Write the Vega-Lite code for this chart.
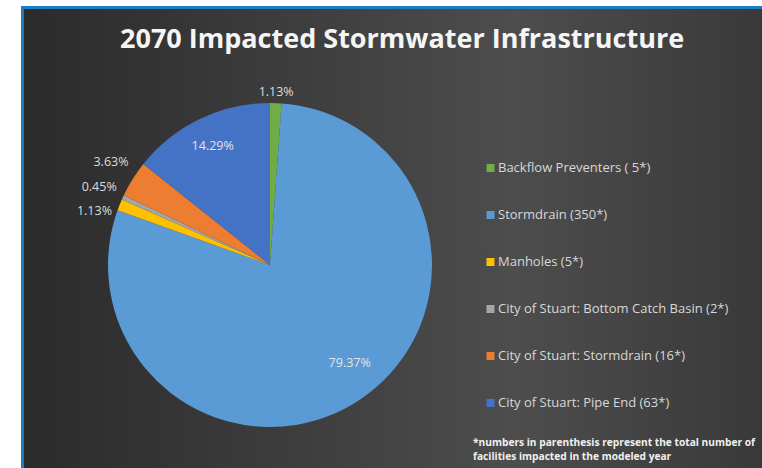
{
  "$schema": "https://vega.github.io/schema/vega-lite/v6.json",
  "background": "white",
  "padding": {"left": 21, "top": 6, "right": 0, "bottom": 0},
  "title": {
    "text": "2070 Impacted Stormwater Infrastructure",
    "anchor": "start",
    "frame": "group",
    "dx": 99,
    "offset": -69,
    "baseline": "alphabetic",
    "font": "Open Sans",
    "fontSize": 27,
    "fontWeight": "bold",
    "color": "#f5f5f5"
  },
  "datasets": {
    "pie": [
      {"label": "Backflow Preventers ( 5*)", "count": 5, "share": 0.0113, "order": 1},
      {"label": "Stormdrain (350*)", "count": 350, "share": 0.7937, "order": 2},
      {"label": "Manholes (5*)", "count": 5, "share": 0.0113, "order": 3},
      {"label": "City of Stuart: Bottom Catch Basin (2*)", "count": 2, "share": 0.0045, "order": 4},
      {"label": "City of Stuart: Stormdrain (16*)", "count": 16, "share": 0.0363, "order": 5},
      {"label": "City of Stuart: Pipe End (63*)", "count": 63, "share": 0.1429, "order": 6}
    ]
  },
  "spacing": 0,
  "vconcat": [
    {
      "width": 741,
      "height": 3,
      "data": {"values": [{"k": 1}]},
      "mark": {"type": "point", "opacity": 0, "size": 1, "strokeWidth": 0, "clip": true},
      "encoding": {},
      "view": {"fill": "#1a7fc2", "stroke": null}
    },
    {
      "spacing": 0,
      "hconcat": [
        {
          "width": 3,
          "height": 512,
          "data": {"values": [{"k": 1}]},
          "mark": {"type": "point", "opacity": 0, "size": 1, "strokeWidth": 0, "clip": true},
          "encoding": {},
          "view": {"fill": "#1a7fc2", "stroke": null}
        },
        {
          "width": 492,
          "height": 512,
          "data": {"name": "pie"},
          "view": {
            "stroke": null,
            "fill": {
              "gradient": "linear",
              "x1": 0, "y1": 0, "x2": 1, "y2": 0,
              "stops": [
                {"offset": 0, "color": "#2b2b2b"},
                {"offset": 0.6, "color": "#3f3f3f"},
                {"offset": 1, "color": "#4d4d4d"}
              ]
            }
          },
          "encoding": {
            "theta": {"field": "count", "type": "quantitative", "stack": true},
            "order": {"field": "order", "type": "quantitative", "sort": "ascending"}
          },
          "layer": [
            {
              "mark": {"type": "arc", "outerRadius": 162},
              "encoding": {
                "color": {
                  "field": "label",
                  "type": "nominal",
                  "sort": null,
                  "scale": {
                    "domain": [
                      "Backflow Preventers ( 5*)",
                      "Stormdrain (350*)",
                      "Manholes (5*)",
                      "City of Stuart: Bottom Catch Basin (2*)",
                      "City of Stuart: Stormdrain (16*)",
                      "City of Stuart: Pipe End (63*)"
                    ],
                    "range": ["#70ad47", "#5b9bd5", "#ffc000", "#a5a5a5", "#ed7d31", "#4472c4"]
                  },
                  "legend": {
                    "orient": "none",
                    "legendX": 452,
                    "legendY": 155.5,
                    "title": ["*numbers in parenthesis represent the total number of", "facilities impacted in the modeled year"],
                    "titleOrient": "bottom",
                    "titleAnchor": "start",
                    "titleFont": "Open Sans",
                    "titleFontSize": 10.2,
                    "titleFontWeight": "bold",
                    "titleColor": "#f0f0f0",
                    "titleLimit": 400,
                    "titleLineHeight": 14,
                    "titlePadding": 27,
                    "symbolType": "square",
                    "symbolSize": 64,
                    "symbolOffset": 11,
                    "symbolStrokeWidth": 0,
                    "labelFont": "Open Sans",
                    "labelFontSize": 13,
                    "labelColor": "#d8d8d8",
                    "labelLimit": 320,
                    "labelOffset": 1,
                    "rowPadding": 33,
                    "padding": 0
                  }
                }
              }
            },
            {
              "mark": {"type": "text", "radius": 132, "font": "Open Sans", "fontSize": 12.5, "color": "#e4e4e4", "align": "center", "baseline": "middle"},
              "encoding": {
                "detail": {"field": "label", "type": "nominal"},
                "text": {"condition": {"test": "datum.order == 6", "field": "share", "type": "quantitative", "format": ".2%"}, "value": ""}
              }
            },
            {
              "mark": {"type": "text", "radius": 126, "thetaOffset": -0.108, "font": "Open Sans", "fontSize": 12.5, "color": "#e4e4e4", "align": "center", "baseline": "middle"},
              "encoding": {
                "detail": {"field": "label", "type": "nominal"},
                "text": {"condition": {"test": "datum.order == 2", "field": "share", "type": "quantitative", "format": ".2%"}, "value": ""}
              }
            },
            {
              "mark": {"type": "text", "radius": 167, "thetaOffset": -0.052, "font": "Open Sans", "fontSize": 12.5, "color": "#dcdcdc", "align": "right", "baseline": "middle"},
              "encoding": {
                "detail": {"field": "label", "type": "nominal"},
                "text": {"condition": {"test": "datum.order == 3", "field": "share", "type": "quantitative", "format": ".2%"}, "value": ""}
              }
            },
            {
              "mark": {"type": "text", "radius": 172, "thetaOffset": 0.04, "font": "Open Sans", "fontSize": 12.5, "color": "#dcdcdc", "align": "right", "baseline": "middle"},
              "encoding": {
                "detail": {"field": "label", "type": "nominal"},
                "text": {"condition": {"test": "datum.order == 4", "field": "share", "type": "quantitative", "format": ".2%"}, "value": ""}
              }
            },
            {
              "mark": {"type": "text", "radius": 175, "thetaOffset": 0.07, "font": "Open Sans", "fontSize": 12.5, "color": "#dcdcdc", "align": "right", "baseline": "middle"},
              "encoding": {
                "detail": {"field": "label", "type": "nominal"},
                "text": {"condition": {"test": "datum.order == 5", "field": "share", "type": "quantitative", "format": ".2%"}, "value": ""}
              }
            },
            {
              "mark": {"type": "text", "radius": 173, "font": "Open Sans", "fontSize": 12.5, "color": "#dcdcdc", "align": "center", "baseline": "middle"},
              "encoding": {
                "detail": {"field": "label", "type": "nominal"},
                "text": {"condition": {"test": "datum.order == 1", "field": "share", "type": "quantitative", "format": ".2%"}, "value": ""}
              }
            }
          ]
        },
        {
          "width": 246,
          "height": 512,
          "data": {"values": [{"k": 1}]},
          "mark": {"type": "point", "opacity": 0, "size": 1, "strokeWidth": 0, "clip": true},
          "encoding": {},
          "view": {
            "stroke": null,
            "fill": {
              "gradient": "linear",
              "x1": 0, "y1": 0, "x2": 1, "y2": 0,
              "stops": [
                {"offset": 0, "color": "#4d4d4d"},
                {"offset": 1, "color": "#393939"}
              ]
            }
          }
        }
      ]
    }
  ],
  "config": {
    "view": {"stroke": null},
    "concat": {"spacing": 0},
    "font": "Open Sans"
  }
}
